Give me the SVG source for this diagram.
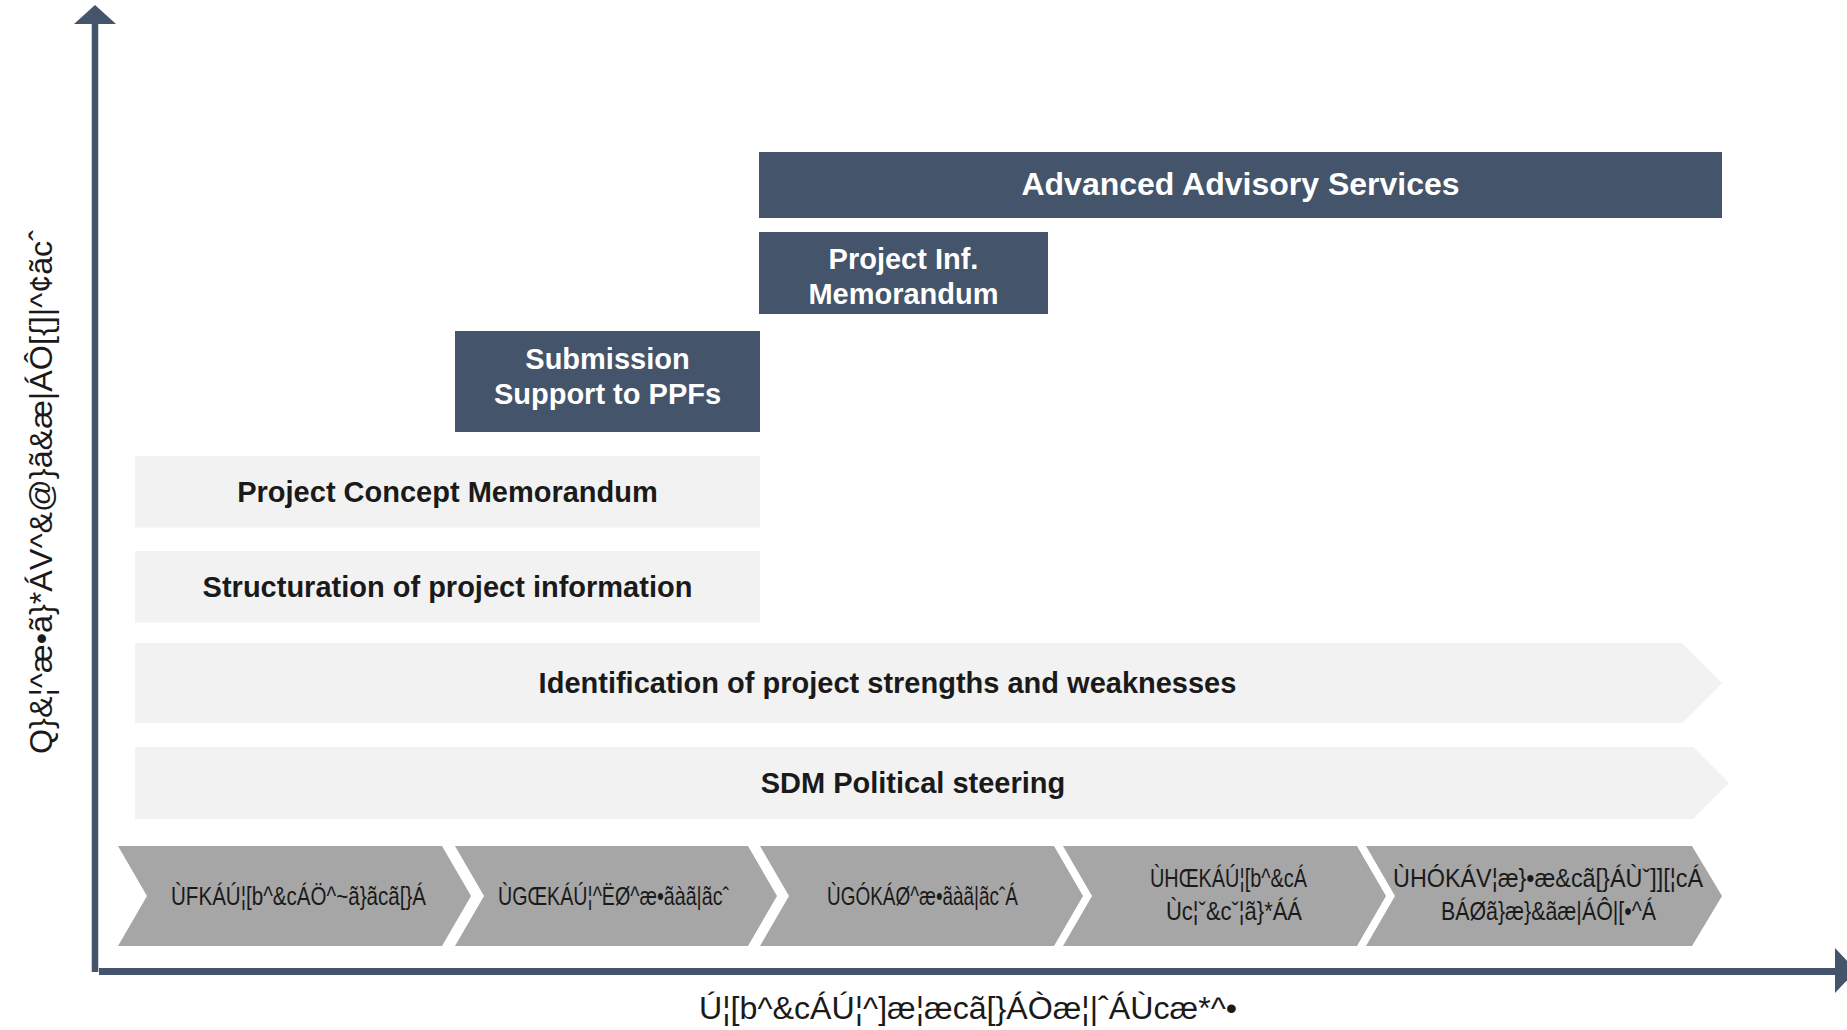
<svg xmlns="http://www.w3.org/2000/svg" width="1847" height="1030" viewBox="0 0 1847 1030">
<style>
.dark{fill:#44546a}
.light{fill:#f2f2f2}
.chev{fill:#a6a6a6}
.wt{font-family:"Liberation Sans",Arial,sans-serif;font-weight:bold;font-size:29px;fill:#ffffff;text-anchor:middle}
.bt{font-family:"Liberation Sans",Arial,sans-serif;font-weight:bold;font-size:29px;fill:#1a1a1a;text-anchor:middle}
.ct{font-family:"Liberation Sans Narrow","Liberation Sans",Arial,sans-serif;font-size:26px;fill:#1a1a1a}
.ax{font-family:"Liberation Sans Narrow","Liberation Sans",Arial,sans-serif;font-size:32px;fill:#1a1a1a}
.axis{stroke:#44546a;fill:none}
.head{fill:#44546a}
</style>
<rect width="1847" height="1030" fill="#ffffff"/>

<g id="connectors">
  <line class="axis" x1="95" y1="22" x2="95" y2="972" stroke-width="6.5"/>
  <polygon class="head" points="74,24 95,5 116,24"/>
  <line class="axis" x1="99" y1="971.5" x2="1837" y2="971.5" stroke-width="7"/>
  <polygon class="head" points="1835,948 1856,970.5 1835,993"/>
</g>

<g id="node-advanced">
  <rect class="dark" x="759" y="152" width="963" height="66"/>
  <text class="wt" x="1240.5" y="195" style="font-size:32px">Advanced Advisory Services</text>
</g>

<g id="node-pim">
  <rect class="dark" x="759" y="232" width="289" height="82"/>
  <text class="wt" x="903.5" y="269">Project Inf.</text>
  <text class="wt" x="903.5" y="304">Memorandum</text>
</g>

<g id="node-submission">
  <rect class="dark" x="455" y="331" width="305" height="101"/>
  <text class="wt" x="607.5" y="369">Submission</text>
  <text class="wt" x="607.5" y="404">Support to PPFs</text>
</g>

<g id="node-pcm">
  <rect class="light" x="135" y="456" width="625" height="71.5"/>
  <text class="bt" x="447.5" y="502">Project Concept Memorandum</text>
</g>

<g id="node-structuration">
  <rect class="light" x="135" y="551" width="625" height="71.5"/>
  <text class="bt" x="447.5" y="597">Structuration of project information</text>
</g>

<g id="node-identification">
  <polygon class="light" points="135,643 1682,643 1722,683 1682,723 135,723"/>
  <text class="bt" x="887.5" y="693">Identification of project strengths and weaknesses</text>
</g>

<g id="node-sdm">
  <polygon class="light" points="135,747 1693,747 1729,783 1693,819 135,819"/>
  <text class="bt" x="913" y="793">SDM Political steering</text>
</g>

<g id="node-s1">
  <polygon class="chev" points="118,846 442,846 471,896 442,946 118,946 147,896"/>
  <text class="ct" x="171" y="905" textLength="255" lengthAdjust="spacingAndGlyphs">ÙFKÁÚ¦[b^&amp;cÁÖ^~ã}ãcã[}Á</text>
</g>

<g id="node-s2a">
  <polygon class="chev" points="455,846 748,846 777,896 748,946 455,946 484,896"/>
  <text class="ct" x="498" y="905" textLength="231" lengthAdjust="spacingAndGlyphs">ÙGŒKÁÚ¦^ËØ^æ•ãàã|ãcˆ</text>
</g>

<g id="node-s2b">
  <polygon class="chev" points="760,846 1054,846 1083,896 1054,946 760,946 789,896"/>
  <text class="ct" x="827" y="905" textLength="191" lengthAdjust="spacingAndGlyphs">ÙGÓKÁØ^æ•ãàã|ãcˆÁ</text>
</g>

<g id="node-s3a">
  <polygon class="chev" points="1063,846 1357,846 1386,896 1357,946 1063,946 1092,896"/>
  <text class="ct" x="1150" y="887" textLength="157" lengthAdjust="spacingAndGlyphs">ÙHŒKÁÚ¦[b^&amp;cÁ</text>
  <text class="ct" x="1166" y="920" textLength="136" lengthAdjust="spacingAndGlyphs">Ùc¦ˇ&amp;cˇ¦ã}*ÁÁ</text>
</g>

<g id="node-s3b">
  <polygon class="chev" points="1366,846 1692,846 1722,896 1692,946 1366,946 1395,896"/>
  <text class="ct" x="1393" y="887" textLength="310" lengthAdjust="spacingAndGlyphs">ÙHÓKÁV¦æ}•æ&amp;cã[}ÁÙˇ]][¦cÁ</text>
  <text class="ct" x="1441" y="920" textLength="215" lengthAdjust="spacingAndGlyphs">BÁØã}æ}&amp;ãæ|ÁÔ|[•^Á</text>
</g>

<g id="label-x">
  <text class="ax" x="699" y="1019" textLength="538" lengthAdjust="spacingAndGlyphs">Ú¦[b^&amp;cÁÚ¦^]æ¦æcã[}ÁÒæ¦|ˆÁÙcæ*^•</text>
</g>

<g id="label-y">
  <text class="ax" transform="translate(52,492) rotate(-90)" x="-262" y="0" textLength="524" lengthAdjust="spacingAndGlyphs">Q}&amp;¦^æ•ã}*ÁV^&amp;@}ã&amp;æ|ÁÔ[{]|^¢ãcˆ</text>
</g>
</svg>
